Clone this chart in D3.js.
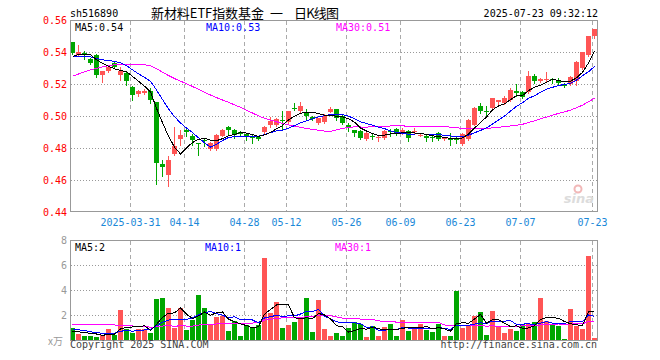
<!DOCTYPE html>
<html>
<head>
<meta charset="utf-8">
<script src="https://cdn.jsdelivr.net/npm/d3@7"></script>
<style>
  html, body { margin: 0; padding: 0; background: #fff; }
  svg { display: block; }
  text { font-family: "DejaVu Sans Mono", monospace; font-size: 10px; }
</style>
</head>
<body>
<script>
// ---------------- data ----------------
const code = "sh516890";
const titleParts = ["新材料ETF指数基金", "一", "日K线图"];
const stamp = "2025-07-23 09:32:12";

const dates = [
"2025-03-17","2025-03-18","2025-03-19","2025-03-20","2025-03-21","2025-03-24","2025-03-25","2025-03-26","2025-03-27","2025-03-28",
"2025-03-31","2025-04-01","2025-04-02","2025-04-03","2025-04-07","2025-04-08","2025-04-09","2025-04-10","2025-04-11","2025-04-14",
"2025-04-15","2025-04-16","2025-04-17","2025-04-18","2025-04-21","2025-04-22","2025-04-23","2025-04-24","2025-04-25","2025-04-28",
"2025-04-29","2025-04-30","2025-05-06","2025-05-07","2025-05-08","2025-05-09","2025-05-12","2025-05-13","2025-05-14","2025-05-15",
"2025-05-16","2025-05-19","2025-05-20","2025-05-21","2025-05-22","2025-05-23","2025-05-26","2025-05-27","2025-05-28","2025-05-29",
"2025-05-30","2025-06-03","2025-06-04","2025-06-05","2025-06-06","2025-06-09","2025-06-10","2025-06-11","2025-06-12","2025-06-13",
"2025-06-16","2025-06-17","2025-06-18","2025-06-19","2025-06-20","2025-06-23","2025-06-24","2025-06-25","2025-06-26","2025-06-27",
"2025-06-30","2025-07-01","2025-07-02","2025-07-03","2025-07-04","2025-07-07","2025-07-08","2025-07-09","2025-07-10","2025-07-11",
"2025-07-14","2025-07-15","2025-07-16","2025-07-17","2025-07-18","2025-07-21","2025-07-22","2025-07-23"];

const open = [
.5460,.5383,.5394,.5356,.5383,.5254,.5279,.5331,.5254,.5269,
.5181,.5140,.5144,.5158,.5085,.4700,.4633,.4765,.4856,.4915,
.4877,.4829,.4852,.4796,.4796,.4877,.4931,.4915,.4898,.4890,
.4869,.4869,.4898,.4946,.4946,.4977,.4960,.5050,.5033,.5023,
.4994,.4956,.4963,.5027,.5044,.5002,.4946,.4915,.4904,.4856,
.4877,.4863,.4863,.4908,.4919,.4894,.4904,.4898,.4877,.4877,
.4869,.4894,.4856,.4863,.4856,.4827,.4856,.4946,.5065,.5029,
.5050,.5085,.5081,.5098,.5154,.5150,.5148,.5252,.5217,.5225,
.5231,.5217,.5200,.5202,.5217,.5300,.5379,.5498];

const high = [
.5460,.5446,.5404,.5360,.5388,.5281,.5310,.5335,.5306,.5273,
.5185,.5165,.5169,.5175,.5090,.4727,.4752,.4929,.4915,.4925,
.4890,.4831,.4860,.4835,.4885,.4919,.4935,.4919,.4908,.4894,
.4890,.4873,.4935,.4994,.4988,.5029,.5033,.5081,.5085,.5044,
.4998,.4988,.5015,.5054,.5044,.5015,.4956,.4915,.4915,.4904,
.4894,.4877,.4910,.4919,.4925,.4925,.4915,.4925,.4890,.4883,
.4883,.4898,.4869,.4894,.4877,.4894,.4981,.5056,.5081,.5060,
.5113,.5102,.5123,.5175,.5202,.5154,.5279,.5265,.5237,.5273,
.5237,.5237,.5206,.5248,.5342,.5402,.5502,.5546];

const low = [
.5390,.5377,.5356,.5327,.5242,.5210,.5273,.5300,.5223,.5196,
.5098,.5127,.5140,.5081,.4577,.4623,.4560,.4758,.4821,.4877,
.4821,.4758,.4810,.4790,.4790,.4873,.4890,.4863,.4877,.4848,
.4831,.4852,.4894,.4931,.4935,.4910,.4952,.5040,.5023,.4977,
.4973,.4952,.4956,.5023,.4973,.4952,.4904,.4877,.4856,.4852,
.4856,.4842,.4856,.4873,.4883,.4890,.4842,.4890,.4873,.4842,
.4842,.4852,.4848,.4821,.4831,.4821,.4852,.4942,.5019,.5008,
.5040,.5077,.5077,.5092,.5123,.5113,.5144,.5206,.5210,.5217,
.5206,.5196,.5181,.5196,.5196,.5294,.5373,.5488];

const close = [
.5394,.5398,.5383,.5331,.5254,.5279,.5306,.5306,.5279,.5217,
.5129,.5154,.5154,.5098,.4706,.4681,.4727,.4815,.4883,.4900,
.4848,.4823,.4846,.4831,.4881,.4910,.4915,.4883,.4890,.4869,
.4863,.4856,.4931,.4967,.4981,.4967,.5033,.5044,.5065,.4998,
.4981,.4985,.4998,.5046,.4988,.4956,.4925,.4894,.4863,.4894,
.4873,.4869,.4904,.4898,.4894,.4910,.4863,.4904,.4883,.4863,
.4863,.4856,.4863,.4852,.4852,.4890,.4977,.5050,.5029,.5023,
.5113,.5098,.5113,.5165,.5144,.5119,.5252,.5217,.5231,.5229,
.5225,.5206,.5185,.5242,.5335,.5398,.5498,.5546];

// volume, unit 万
const volume = [
0.96,0.50,0.34,0.34,0.26,0.42,0.90,0.42,2.42,0.90,
0.58,0.90,0.90,0.58,3.30,3.38,2.58,0.98,2.58,0.82,
1.62,3.62,2.58,1.22,1.86,1.94,0.74,1.54,0.34,1.22,
0.98,1.22,6.58,2.18,3.06,0.98,1.22,1.46,1.86,3.38,
0.66,3.22,0.90,0.34,0.58,0.34,0.98,1.46,1.30,0.26,
1.14,0.34,1.06,1.30,0.34,1.62,0.74,0.90,1.30,0.82,
0.66,1.30,0.34,0.34,3.94,0.98,1.14,1.94,2.26,0.42,
2.34,1.14,0.58,0.90,0.74,1.30,1.30,1.46,3.38,1.54,
1.22,1.14,0.10,2.50,1.14,0.90,6.74,0.18];

// sessions before the visible window (only feed the moving averages)
const preClose = [0.497,0.498,0.496,0.497,0.500,0.507,0.514,0.519,0.520,0.518,0.517,0.520,0.525,
0.530,0.532,0.536,0.538,0.537,0.539,0.536,0.535,0.538,0.537,0.536,0.536,0.534,0.538,0.534,0.541];
const preVolume = [0.6,0.4,0.4,0.3,0.5,0.9,0.5,4.8,1.0,0.7,1.0,1.0,3.6,2.0,1.5,1.8,2.2,1.6,1.4,1.6,
1.2,0.9,1.3,0.95,1.0,0.7,0.55,0.74,0.5];

const tickDates  = ["2025-03-31","2025-04-14","2025-04-28","2025-05-12","2025-05-26","2025-06-09","2025-06-23","2025-07-07","2025-07-23"];
const tickLabels = ["2025-03-31","04-14","04-28","05-12","05-26","06-09","06-23","07-07","07-23"];
const priceTicks = [0.44,0.46,0.48,0.50,0.52,0.54,0.56];
const volTicks = [2,4,6,8];
const maPeriods = [5,10,30];
const priceLegend = ["MA5:0.54","MA10:0.53","MA30:0.51"];
const volLegend = ["MA5:2","MA10:1","MA30:1"];
const maColors = ["#000000","#0000ff","#ff00ff"];

// ---------------- chart ----------------
const W = 660, H = 360;
const L = 70, R = 597;
const mainTop = 20, mainBot = 211;
const volTop = 240, volBot = 340;
const RED = "#ff5555", GREEN = "#00a600";

const svg = d3.select("body").append("svg").attr("width", W).attr("height", H);

const x = d3.scaleBand().domain(dates).range([L, R]).paddingInner(1/6).paddingOuter(0).align(0);
const y = d3.scaleLinear().domain([0.44, 0.56]).range([212, 20]);
const yv = d3.scaleLinear().domain([0, 8]).range([340, 240]);

function movingAvg(pre, vals, n) {
  const full = pre.concat(vals);
  const off = pre.length;
  return vals.map((_, i) => d3.mean(full.slice(off + i - n + 1, off + i + 1)));
}

const rows = dates.map((d, i) => ({d, o: open[i], h: high[i], l: low[i], c: close[i], v: volume[i]}));

const grid = svg.append("g").attr("shape-rendering", "crispEdges");
grid.selectAll(".hg").data(priceTicks.filter(t => t > 0.445 && t < 0.555)).join("line")
  .attr("x1", L + 1).attr("x2", R)
  .attr("y1", t => Math.round(y(t)) + 0.5).attr("y2", t => Math.round(y(t)) + 0.5)
  .attr("stroke", "#999").attr("stroke-dasharray", "1,2");
grid.selectAll(".hv").data(volTicks.filter(t => t < 8)).join("line")
  .attr("x1", L + 1).attr("x2", R)
  .attr("y1", t => Math.round(yv(t)) + 0.5).attr("y2", t => Math.round(yv(t)) + 0.5)
  .attr("stroke", "#999").attr("stroke-dasharray", "1,2");
tickDates.forEach(d => {
  const gx = x(d) + 0.5;
  grid.append("line").attr("x1", gx).attr("x2", gx).attr("y1", mainTop + 1).attr("y2", mainBot)
    .attr("stroke", "#aaa").attr("stroke-dasharray", "4,3");
  grid.append("line").attr("x1", gx).attr("x2", gx).attr("y1", volTop + 1).attr("y2", volBot)
    .attr("stroke", "#aaa").attr("stroke-dasharray", "4,3");
});

// candles
const cg = svg.append("g").attr("shape-rendering", "crispEdges");
rows.forEach(r => {
  const col = r.c >= r.o ? RED : GREEN;
  const x0 = x(r.d);
  const yh = Math.round(y(r.h)), yl = Math.round(y(r.l));
  cg.append("rect").attr("x", x0 + 2).attr("width", 1).attr("y", yh).attr("height", Math.max(1, yl - yh + 1)).attr("fill", col);
  const yt = Math.round(y(Math.max(r.o, r.c))), yb = Math.round(y(Math.min(r.o, r.c)));
  cg.append("rect").attr("x", x0).attr("width", x.bandwidth()).attr("y", yt).attr("height", Math.max(1, yb - yt)).attr("fill", col);
});

// volume bars
const vg = svg.append("g").attr("shape-rendering", "crispEdges");
vg.selectAll("rect").data(rows).join("rect")
  .attr("x", r => x(r.d)).attr("width", x.bandwidth())
  .attr("y", r => Math.round(yv(r.v))).attr("height", r => Math.max(1, volBot - Math.round(yv(r.v))))
  .attr("fill", r => r.c >= r.o ? RED : GREEN);

// moving averages
const lg = svg.append("g").attr("fill", "none").attr("shape-rendering", "crispEdges");
maPeriods.slice().reverse().forEach((n, k) => {
  const idx = maPeriods.length - 1 - k;
  const mp = movingAvg(preClose, close, n);
  const mv = movingAvg(preVolume, volume, n);
  lg.append("path").attr("stroke", maColors[idx]).attr("stroke-width", 1)
    .attr("d", d3.line().x((_, i) => x(dates[i]) + 2.5).y(v => y(v))(mp));
  lg.append("path").attr("stroke", maColors[idx]).attr("stroke-width", 1)
    .attr("d", d3.line().x((_, i) => x(dates[i]) + 2.5).y(v => yv(v))(mv));
});

// frames
const fr = svg.append("g").attr("fill", "none").attr("stroke", "#999").attr("shape-rendering", "crispEdges");
fr.append("rect").attr("x", L + 0.5).attr("y", mainTop + 0.5).attr("width", R - L).attr("height", mainBot - mainTop);
fr.append("rect").attr("x", L + 0.5).attr("y", volTop + 0.5).attr("width", R - L).attr("height", volBot - volTop);

// watermark
const wm = svg.append("g");
wm.append("circle").attr("cx", 578).attr("cy", 189).attr("r", 3.5).attr("fill", "none").attr("stroke", "#f2b8b8").attr("stroke-width", 2);
wm.append("text").attr("x", 594).attr("y", 203).attr("text-anchor", "end")
  .style("font-family", "DejaVu Sans").style("font-size", "13px").style("font-weight", "bold").style("font-style", "italic")
  .attr("fill", "#dcdcdc").text("sina");

// axis labels
const tg = svg.append("g");
tg.selectAll(".py").data(priceTicks).join("text")
  .attr("x", 67).attr("y", t => Math.round(y(t)) + 4).attr("text-anchor", "end")
  .attr("fill", "#ff0000").text(t => t.toFixed(2));
tg.selectAll(".vy").data(volTicks).join("text")
  .attr("x", 67).attr("y", t => Math.round(yv(t)) + 4).attr("text-anchor", "end")
  .attr("fill", "#999").text(t => t);
tg.append("text").attr("x", 63).attr("y", 345).attr("text-anchor", "end")
  .style("font-family", "'Noto Sans CJK SC'").style("font-size", "10px").attr("fill", "#999").text("x万");
tg.selectAll(".xl").data(tickDates).join("text")
  .attr("x", d => x(d) + 0.5).attr("y", 225.5).attr("text-anchor", "middle")
  .attr("fill", "#1a88d8").text((d, i) => tickLabels[i]);

// legends
const lx = [75, 206, 336], vx = [75, 205, 335];
priceLegend.forEach((t, i) => tg.append("text").attr("x", lx[i]).attr("y", 30.5).attr("fill", maColors[i]).text(t));
volLegend.forEach((t, i) => tg.append("text").attr("x", vx[i]).attr("y", 250.5).attr("fill", maColors[i]).text(t));

// header
tg.append("text").attr("x", 70).attr("y", 17).attr("fill", "#000").text(code);
const titleX = [151, 270, 294], titleLen = [113, null, 45];
titleParts.forEach((t, i) => {
  const el = tg.append("text").attr("x", titleX[i]).attr("y", 18).attr("fill", "#000")
    .style("font-family", "'Noto Sans CJK SC'").style("font-size", "13px").text(t);
  if (titleLen[i]) el.attr("textLength", titleLen[i]).attr("lengthAdjust", "spacing");
});
tg.append("text").attr("x", 598).attr("y", 17).attr("text-anchor", "end").attr("fill", "#000").text(stamp);

// footer
tg.append("text").attr("x", 70).attr("y", 348).attr("fill", "#444").text("Copyright 2025 SINA.COM");
tg.append("text").attr("x", 597).attr("y", 348).attr("text-anchor", "end").attr("fill", "#444").text("http://finance.sina.com.cn");
</script>
</body>
</html>
